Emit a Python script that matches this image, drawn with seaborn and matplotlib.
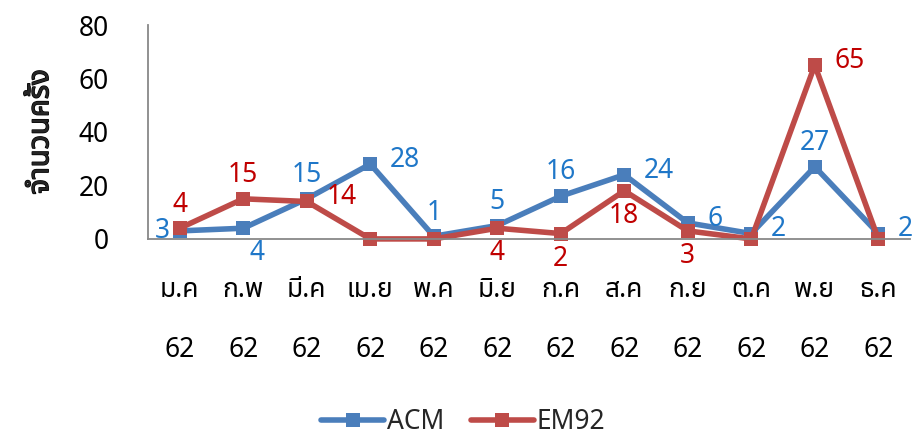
import matplotlib
matplotlib.use("Agg")
import matplotlib.pyplot as plt
import matplotlib.patheffects as pe
import seaborn as sns
import pandas as pd

months = ["ม.ค", "ก.พ", "มี.ค", "เม.ย", "พ.ค", "มิ.ย", "ก.ค", "ส.ค", "ก.ย", "ต.ค", "พ.ย", "ธ.ค"]
year = "62"
acm = [3, 4, 15, 28, 1, 5, 16, 24, 6, 2, 27, 2]
em92 = [4, 15, 14, 0, 0, 4, 2, 18, 3, 0, 65, 0]
y_ticks = [0, 20, 40, 60, 80]
y_label = "จำนวนครั้ง"

sns.set_theme(style="white")
plt.rcParams['font.family'] = ['Noto Sans Thai', 'Tahoma', 'Leelawadee UI', 'Garuda', 'Loma',
                               'Noto Sans', 'DejaVu Sans']

cats = [f"{m}\n{year}" for m in months]
df = pd.DataFrame({
    "month": cats * 2,
    "value": acm + em92,
    "series": ["ACM"] * len(acm) + ["EM92"] * len(em92),
})

fig = plt.figure(figsize=(9.17, 4.4), dpi=100)
ax = fig.add_axes([0.1614, 0.457, 0.831, 0.486])

palette = {"ACM": "#4A7EBB", "EM92": "#BE4B48"}
sns.lineplot(data=df, x="month", y="value", hue="series", style="series",
             markers={"ACM": "s", "EM92": "s"}, dashes=False, palette=palette,
             linewidth=4.0, markersize=9.5, markeredgewidth=0, ax=ax, sort=False)

FS = 19
ax.set_xlim(-0.5, len(months) - 0.5)
ax.set_ylim(0, 80)
ax.set_yticks(y_ticks)
ax.tick_params(axis='both', labelsize=FS, length=0, colors="black")
ax.tick_params(axis='y', pad=28)
ax.tick_params(axis='x', pad=27)
for lab in ax.get_xticklabels():
    lab.set_linespacing(2.5)
ax.set_xlabel("")
ax.set_ylabel(y_label, fontsize=21, fontweight="bold", labelpad=17,
              path_effects=[pe.withStroke(linewidth=1.0, foreground="black")])

for s in ["top", "right"]:
    ax.spines[s].set_visible(False)
for s in ["left", "bottom"]:
    ax.spines[s].set_color("#888888")
    ax.spines[s].set_linewidth(1.3)
for l in ax.lines:
    l.set_clip_on(False)

blue_txt = "#1F77C8"
red_txt = "#C00000"
acm_pos = ["l", "br", "a", "r", "a", "a", "a", "r", "r", "r", "a", "r"]
em_pos = ["a", "a", "r", None, None, "b", "b", "b", "b", None, "r", None]
offs = {"l": (-7, 0, "right", "center"), "r": (14, 3, "left", "center"),
        "a": (0, 7, "center", "bottom"), "b": (0, -8, "center", "top"),
        "br": (10, -8, "center", "top")}

for series, pos, col in ((acm, acm_pos, blue_txt), (em92, em_pos, red_txt)):
    for i, (v, p) in enumerate(zip(series, pos)):
        if p is None:
            continue
        dx, dy, ha, va = offs[p]
        ax.annotate(str(v), (i, v), xytext=(dx, dy), textcoords="offset points",
                    ha=ha, va=va, fontsize=FS, color=col, annotation_clip=False)

handles, labels = ax.get_legend_handles_labels()
ax.legend(handles, labels, loc="center", bbox_to_anchor=(0.505, 0.04),
          bbox_transform=fig.transFigure, ncol=2, frameon=False, fontsize=FS,
          handlelength=2.4, handletextpad=0.1, columnspacing=1.0,
          borderpad=0.1)

fig.savefig("out.png", dpi=100)
